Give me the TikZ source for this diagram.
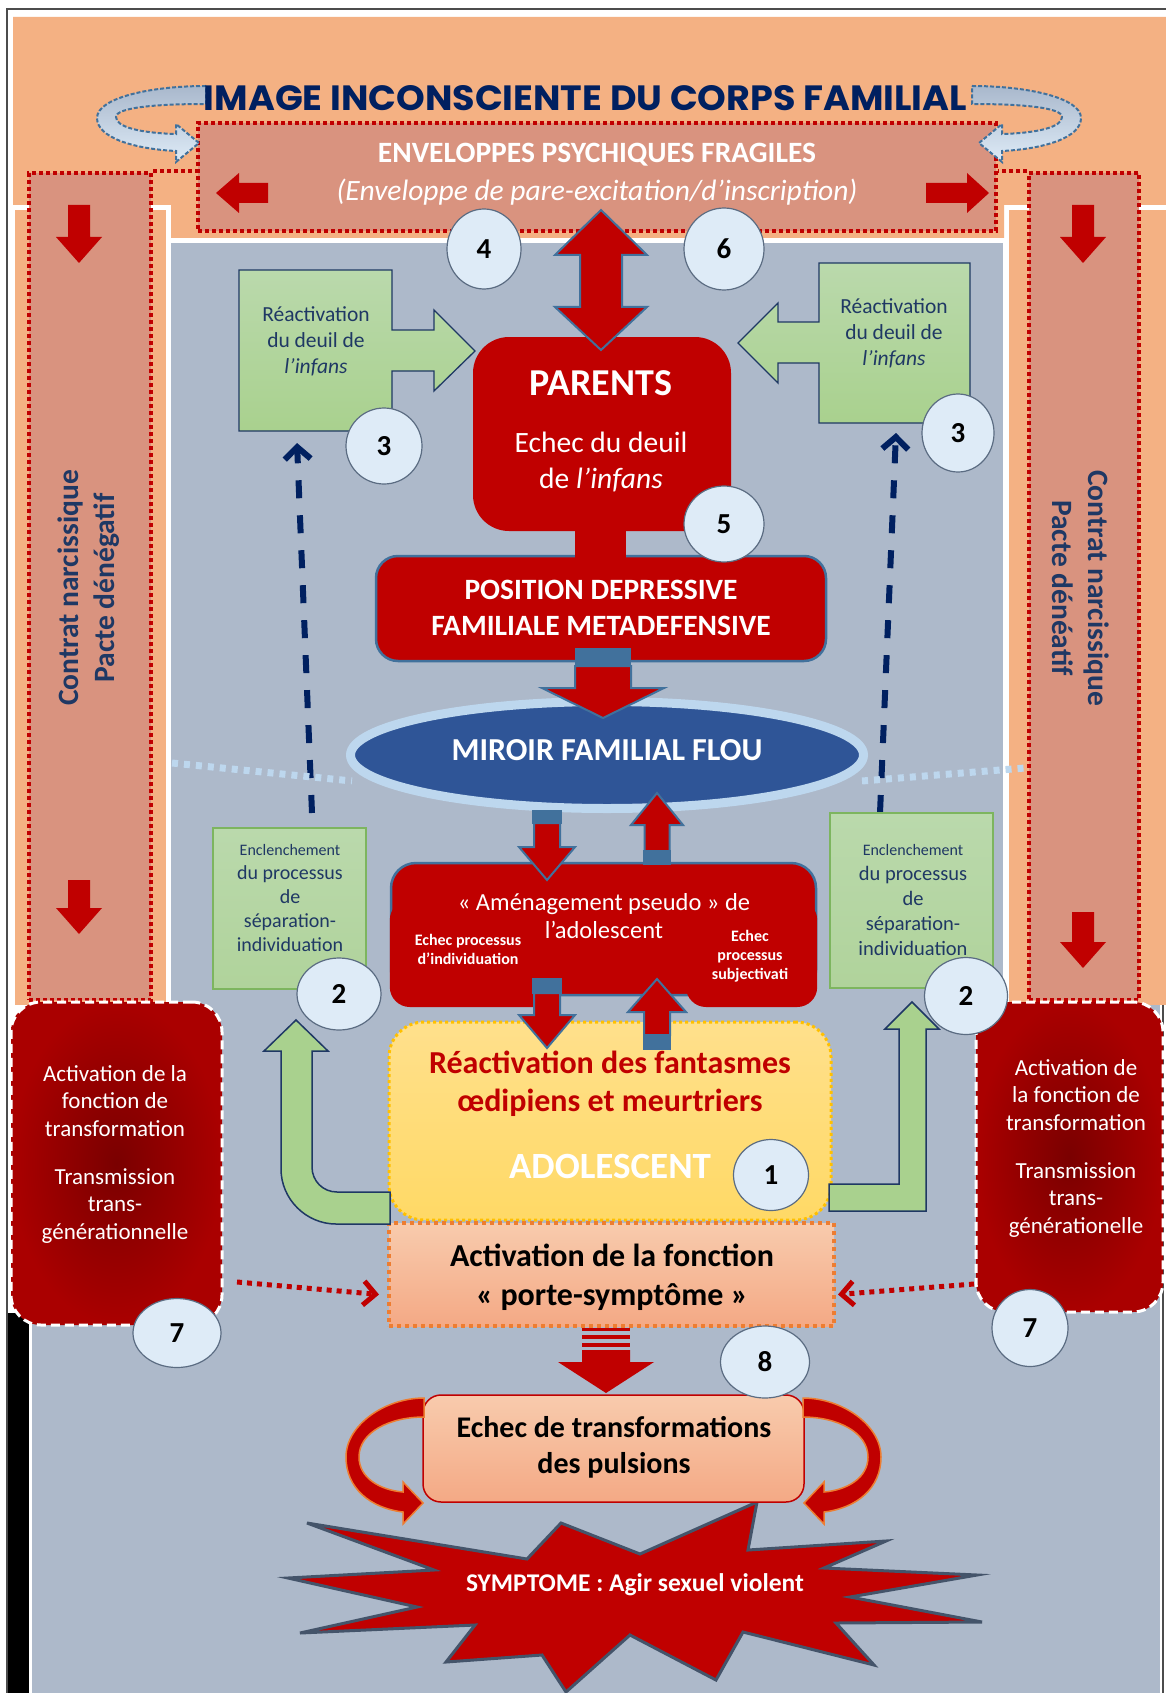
\documentclass[tikz,border=0pt]{standalone}
\usepackage{graphicx}
\usepackage{fontspec}
\setmainfont{Carlito}
\newfontfamily\titlefont{Poppins}
\usetikzlibrary{shapes.geometric,arrows.meta,calc}
\definecolor{peach}{HTML}{F4B183}
\definecolor{salmon}{HTML}{D9937F}
\definecolor{panel}{HTML}{ADB9CA}
\definecolor{dred}{HTML}{C00000}
\definecolor{navy}{HTML}{002060}
\definecolor{navyt}{HTML}{1F3864}
\definecolor{steel}{HTML}{41719C}
\definecolor{circfill}{HTML}{DEEBF7}
\definecolor{circline}{HTML}{5B6C82}
\definecolor{gfill}{HTML}{A9D18E}
\definecolor{gtop}{HTML}{BAD9AC}
\definecolor{gline}{HTML}{7DB55F}
\definecolor{lblue}{HTML}{BDD7EE}
\definecolor{mblue}{HTML}{2F5597}
\definecolor{yel}{HTML}{FFD966}
\definecolor{yeltop}{HTML}{FFE08C}
\definecolor{ydot}{HTML}{FFC000}
\definecolor{orng}{HTML}{ED7D31}
\definecolor{ptop}{HTML}{F8CBAD}
\definecolor{pbot}{HTML}{F4A985}
\definecolor{slate}{HTML}{44546A}
\definecolor{ribtop}{HTML}{A9B8CC}
\definecolor{ribbot}{HTML}{DEEBF7}
\definecolor{darkr}{HTML}{7A0000}
\definecolor{edger}{HTML}{AA0000}
\definecolor{gbot}{HTML}{B0D39B}
\newcommand\fs[2]{\fontsize{#1}{#2}\selectfont}
\newcommand\barrow[7]{%
  \begin{scope}[shift={#2},rotate=#3]
    \path[#1] (0,-#5) -- ({#4-#7},-#5) -- ({#4-#7},-#6) -- (#4,0)
      -- ({#4-#7},#6) -- ({#4-#7},#5) -- (0,#5) -- cycle;
  \end{scope}}
\tikzset{
  redarrow/.style={fill=dred, draw=steel, line width=2pt},
  plainarrow/.style={fill=dred},
  numcirc/.style={ellipse, fill=circfill, draw=circline, line width=1.2pt,
    inner sep=0pt, font=\bfseries\fs{29}{32}, text=black},
  colbox/.style={rectangle, fill=salmon, draw=dred, line width=4pt,
    dash pattern=on 4pt off 3pt, inner sep=0pt},
  dotline/.style={draw=dred, line width=4pt, dash pattern=on 4pt off 3pt},
  coltext/.style={align=center, font=\bfseries\fs{29.5}{36}, text=navyt},
  redbox/.style={rectangle, fill=dred, inner sep=0pt},
  wtext/.style={text=white, align=center, inner sep=0pt},
  greenbox/.style={top color=gtop, bottom color=gfill, draw=navyt, line width=1.3pt},
  enclbox/.style={rectangle, top color=gtop, bottom color=gbot, draw=gline, line width=1.5pt, inner sep=0pt},
  greenL/.style={fill=gfill, draw=navyt, line width=1.5pt},
  navydash/.style={draw=navy, line width=6pt, dash pattern=on 18pt off 17pt, -{Straight Barb[length=12pt,width=26pt]}},
  reddotarrow/.style={draw=dred, line width=5pt, dash pattern=on 5pt off 5pt, -{Straight Barb[length=12pt,width=24pt]}},
  actbox/.style={rectangle, rounded corners=30, inner color=darkr, outer color=edger, draw=white, line width=3pt, dash pattern=on 9pt off 5pt, inner sep=0pt},
  bluetext/.style={align=center, text=navyt},
}
\begin{document}
\begin{tikzpicture}[x=1pt,y=-1pt]
\useasboundingbox (0,0) rectangle (1166,1693);
\fill[white] (0,0) rectangle (1166,1693);
% frame
\draw[black!70, line width=1.5pt] (7,1693) -- (7,9) -- (1166,9);
\draw[black!70, line width=1.5pt] (1163,1005) -- (1163,1693);
\fill[black] (8,1313) rectangle (29,1693);
% peach background
\fill[peach] (13,17) -- (1166,17) -- (1166,205) -- (1004,205) -- (1004,238) -- (171,238) -- (171,205) -- (13,205) -- cycle;
\fill[peach] (15,210) rectangle (166,1005);
\fill[peach] (1009,210) rectangle (1166,1005);
% gray panels
\fill[panel] (171,243) rectangle (1003,1693);
\fill[panel] (32,1005) rectangle (1160,1693);

% side columns
\node[colbox, minimum width=122, minimum height=827] (colL) at (90,586.5) {};
\node[colbox, minimum width=110, minimum height=827] (colR) at (1084,586.5) {};
\node[coltext, rotate=90] (colLt) at (89,588) {Contrat narcissique\\Pacte dénégatif};
\node[coltext, rotate=-90] (colRt) at (1081,588) {Contrat narcissique\\Pacte dénéatif};
\barrow{plainarrow}{(79,205)}{-90}{58}{11}{23}{26}
\barrow{plainarrow}{(79,880)}{-90}{54}{11}{23}{26}
\barrow{plainarrow}{(1083,205)}{-90}{58}{11}{23}{26}
\barrow{plainarrow}{(1083,912)}{-90}{56}{11}{23}{26}

% envelope box
\node[colbox, minimum width=798, minimum height=108] (env) at (597,177) {};
\draw[dotline] (colL.north east) -- (colL.north east -| env.west);
\draw[dotline] (colR.north west) -- (colR.north west -| env.east);
\node[wtext, font=\bfseries\fs{29.5}{32}] (envT) at (597,155) {ENVELOPPES PSYCHIQUES FRAGILES};
\node[wtext, font=\itshape\fs{29.5}{32}] (envS) at (597,192) {(Enveloppe de pare-excitation/d’inscription)};
\barrow{plainarrow}{(268,193)}{180}{52}{10}{20}{23}
\barrow{plainarrow}{(926,193)}{0}{63}{10}{20}{22}

% ribbons around title
\foreach \sx/\ox in {1/0,-1/1178}{
  \begin{scope}[shift={(\ox,0)}, xscale=\sx]
  \path[top color=ribtop, bottom color=ribbot, draw=steel, line width=2pt, dash pattern=on 4pt off 2pt]
   (206,86) .. controls (150,86) and (97,98) .. (97,118)
   .. controls (97,138) and (135,149) .. (176,151) -- (176,162) -- (199,143) -- (176,124) -- (176,134)
   .. controls (140,133) and (116,127) .. (116,117)
   .. controls (116,107) and (160,104) .. (206,104) -- cycle;
  \end{scope}}
\node[anchor=south, inner sep=0pt, text=navy] (title) at (585.5,110.7)
  {\resizebox{763pt}{25pt}{\titlefont\bfseries IMAGE INCONSCIENTE DU CORPS FAMILIAL}};

% reactivation callouts
\path[greenbox] (239,270) -- (392,270) -- (392,330) -- (434,330) -- (434,310) -- (475,351) -- (434,391) -- (434,371) -- (392,371) -- (392,431) -- (239,431) -- cycle;
\node[bluetext, font=\fs{21.5}{26}] (reacL) at (316,341) {Réactivation\\du deuil de\\\textit{l’infans}};
\path[greenbox] (970,263) -- (819,263) -- (819,322) -- (778,322) -- (778,303) -- (738,343) -- (778,383) -- (778,363) -- (819,363) -- (819,423) -- (970,423) -- cycle;
\node[bluetext, font=\fs{21.5}{26}] (reacR) at (894,333) {Réactivation\\du deuil de\\\textit{l’infans}};

% dashed navy arrows
\coordinate (nL0) at (312,813); \coordinate (nL1) at (297,443);
\draw[navydash] (nL0) -- (nL1);
\coordinate (nR0) at (880,813); \coordinate (nR1) at (896,433);
\draw[navydash] (nR0) -- (nR1);

% light dotted line + mirror
\coordinate (lb1) at (172,763); \coordinate (lb2) at (352,781);
\coordinate (lb3) at (862,781); \coordinate (lb4) at (1025,768);
\draw[lblue, line width=7pt, dash pattern=on 6pt off 6pt] (lb1) -- (lb2);
\draw[lblue, line width=7pt, dash pattern=on 6pt off 6pt] (lb3) -- (lb4);
\node[ellipse, fill=mblue, draw=lblue, line width=9pt, minimum width=513, minimum height=107, inner sep=0pt] (miroir) at (607,755) {};
\node[wtext, font=\bfseries\fs{32}{36}] (miroirT) at (607,750) {MIROIR FAMILIAL FLOU};

% parents and position
\node[redbox, rounded corners=36, minimum width=258, minimum height=194] (parents) at (602,434) {};
\node[wtext, font=\bfseries\fs{38}{40}] (parT) at (601,383) {PARENTS};
\node[wtext, font=\fs{29.5}{36}] (parS) at (601,462) {Echec du deuil\\de \textit{l’infans}};
\node[redbox, draw=steel, line width=2.5pt, rounded corners=22, minimum width=450, minimum height=105] (pos) at (601,608.5) {};
\path[fill=dred] ($(parents.south)+(-27,-3)$) rectangle ($(pos.north)+(25,3)$);
\node[wtext, font=\bfseries\fs{29.5}{36}] (posT) at (601,608) {POSITION DEPRESSIVE\\FAMILIALE METADEFENSIVE};
% double arrow env <-> parents
\path[redarrow] (601,210) -- (647,255) -- (622,255) -- (622,307) -- (647,307) -- (601,350) -- (555,307) -- (580,307) -- (580,255) -- (555,255) -- cycle;
% position -> miroir
\fill[steel] (575,648) rectangle (631,667);
\barrow{redarrow}{(603,666)}{-90}{52}{28}{61}{30}

% enclenchement boxes
\node[enclbox, minimum width=153, minimum height=161] (enclL) at (289.5,908.5) {};
\node[bluetext, font=\fs{20}{24}] (enclLt) at (290,898) {{\fs{16}{24}Enclenchement}\\du processus\\de\\séparation-\\individuation};
\node[enclbox, minimum width=163, minimum height=175] (enclR) at (911.5,900.5) {};
\node[bluetext, font=\fs{20.5}{25}] (enclRt) at (913,900) {{\fs{16}{25}Enclenchement}\\du processus\\de\\séparation-\\individuation};

% amenagement
\node[redbox, draw=steel, line width=2.5pt, rounded corners=25, minimum width=425, minimum height=132] (amen) at (603.5,929) {};
\fill[dred, rounded corners=20] (389.8,900) rectangle (560,1007);
\fill[dred, rounded corners=20] (686,900) rectangle (817.2,1007);
\node[wtext, font=\fs{24.5}{28}] (amenT) at (604,916) {« Aménagement pseudo » de\\l’adolescent};
\node[wtext, font=\bfseries\fs{16}{19}] (amenL) at (468,949) {Echec processus\\d’individuation};
\node[wtext, font=\bfseries\fs{16}{19}] (amenR) at (750,956) {Echec\\processus\\subjectivati};

% adolescent
\node[rectangle, rounded corners=35, top color=yeltop, bottom color=yel, draw=ydot, line width=3pt, dash pattern=on 3pt off 3pt, minimum width=442, minimum height=198] (ado) at (610,1121) {};
\node[text=dred, align=center, font=\bfseries\fs{32}{38}] (adoT) at (610,1084) {Réactivation des fantasmes\\œdipiens et meurtriers};
\node[wtext, font=\bfseries\fs{37}{40}] (adoN) at (610,1166) {ADOLESCENT};

% porte-symptome
\node[rectangle, top color=ptop, bottom color=pbot, draw=orng, line width=4pt, dash pattern=on 4pt off 4pt, minimum width=445, minimum height=103] (porte) at (611.5,1274.5) {};
\node[align=center, text=black, font=\bfseries\fs{32}{39}] (porteT) at (612,1277) {Activation de la fonction\\« porte-symptôme »};

% green L arrows
\path[greenL] (390,1192) -- (337,1192) .. controls (323,1192) and (312,1181) .. (312,1167) -- (312,1051) -- (328,1051) -- (296,1020) -- (264,1051) -- (281,1051) -- (281,1169) .. controls (281,1199) and (306,1224) .. (336,1224) -- (390,1224) -- cycle;
\path[greenL] (829,1184) -- (899,1184) -- (899,1029) -- (885,1029) -- (912,1002) -- (939,1029) -- (926,1029) -- (926,1211) -- (829,1211) -- cycle;

% red activation boxes
\node[actbox, minimum width=211, minimum height=323] (actL) at (116.5,1163.5) {};
\node[wtext, font=\fs{23}{27.5}] (actLa) at (115,1101) {Activation de la\\fonction de\\transformation};
\node[wtext, font=\fs{23}{27.5}] (actLb) at (115,1206) {Transmission\\trans-\\générationnelle};
\node[actbox, minimum width=187, minimum height=310] (actR) at (1069.5,1157) {};
\node[wtext, font=\fs{23}{27.5}] (actRa) at (1076,1095) {Activation de\\la fonction de\\transformation};
\node[wtext, font=\fs{23}{27.5}] (actRb) at (1076,1200) {Transmission\\trans-\\générationelle};
\coordinate (rdL) at (237,1282);
\draw[reddotarrow] (rdL) -- ($(porte.west)+(-8,20)$);
\coordinate (rdR) at (974,1284);
\draw[reddotarrow] (rdR) -- ($(porte.east)+(2,20)$);

% middle arrows
\fill[steel] (532,810) rectangle (562,824);
\barrow{redarrow}{(547,823)}{-90}{57}{13}{28}{33}
\fill[steel] (643,850) rectangle (671,865);
\barrow{redarrow}{(657,851)}{90}{58}{12.5}{26}{32}
\fill[steel] (532,978) rectangle (562,994);
\barrow{redarrow}{(547,993)}{-90}{55}{13}{28}{33}
\fill[steel] (643,1035) rectangle (671,1050);
\barrow{redarrow}{(657,1035)}{90}{56}{13}{29}{33}

% star
\path[fill=dred, draw=slate, line width=3pt, line join=miter]
 (307,1523) -- (527,1559) -- (561,1523) -- (640,1554) -- (757,1502) -- (748,1550) -- (886,1541) -- (824,1568) -- (977,1575) -- (850,1597) -- (982,1622) -- (836,1623) -- (874,1665) -- (743,1632) -- (716,1680) -- (630,1635) -- (566,1692) -- (542,1655) -- (446,1662) -- (475,1625) -- (300,1633) -- (417,1607) -- (288,1578) -- (434,1570) -- cycle;
\node[wtext, font=\bfseries\fs{25.5}{28}] (sympT) at (635,1585) {SYMPTOME : Agir sexuel violent};

% echec box + curved arrows
\node[rectangle, rounded corners=18, top color=ptop, bottom color=pbot, draw=dred, line width=1.5pt, minimum width=381, minimum height=107] (echec) at (613.5,1448.5) {};
\node[align=center, text=black, font=\bfseries\fs{30}{36}] (echecT) at (614,1447) {Echec de transformations\\des pulsions};
\foreach \sx/\ox in {1/0,-1/1227}{
 \begin{scope}[shift={(\ox,0)}, xscale=\sx]
 \path[fill=dred, draw=orng, line width=1.5pt]
  (424,1398) .. controls (385,1398) and (346,1425) .. (346,1457)
  .. controls (346,1488) and (370,1508) .. (403,1512) -- (403,1524) -- (423,1503) -- (403,1482) -- (403,1492)
  .. controls (380,1490) and (359,1478) .. (359,1457)
  .. controls (359,1432) and (390,1417) .. (424,1417) -- cycle;
 \end{scope}}
% porte -> echec arrow
\fill[dred] (582,1328) rectangle (630,1331);
\fill[dred] (582,1335) rectangle (630,1339);
\fill[dred] (582,1343) rectangle (630,1347);
\barrow{plainarrow}{(606,1350)}{-90}{43}{24}{48}{31}

% number circles
\node[numcirc, minimum width=74, minimum height=80] (c4) at (484,249) {4};
\node[numcirc, minimum width=80, minimum height=82] (c6) at (724,249) {6};
\node[numcirc, minimum width=76, minimum height=76] (c3L) at (384,446) {3};
\node[numcirc, minimum width=72, minimum height=78] (c3R) at (958,433) {3};
\node[numcirc, minimum width=80, minimum height=76] (c5) at (724,524) {5};
\node[numcirc, minimum width=84, minimum height=72] (c2L) at (339,994) {2};
\node[numcirc, minimum width=83, minimum height=77] (c2R) at (966,996) {2};
\node[numcirc, minimum width=75, minimum height=71] (c1) at (771,1175) {1};
\node[numcirc, minimum width=88, minimum height=69] (c7L) at (177,1333) {7};
\node[numcirc, minimum width=76, minimum height=77] (c7R) at (1030,1328) {7};
\node[numcirc, minimum width=89, minimum height=72] (c8) at (765,1362) {8};
\end{tikzpicture}
\end{document}
